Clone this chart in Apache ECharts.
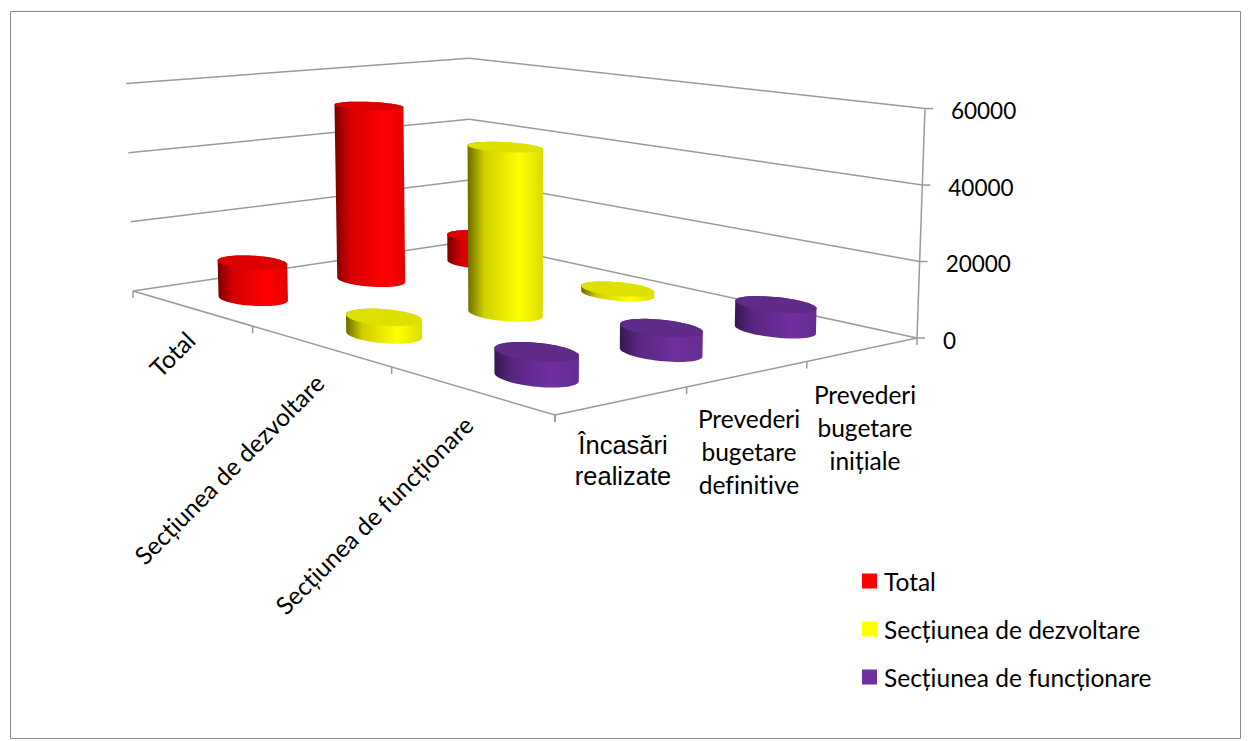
<!DOCTYPE html>
<html>
<head>
<meta charset="utf-8">
<script src="https://cdn.jsdelivr.net/npm/echarts@6/dist/echarts.min.js"></script>
<style>html,body{margin:0;padding:0;background:#fff}#c{width:1251px;height:741px}svg text{font-variant-ligatures:none}</style>
</head>
<body>
<div id="c"></div>
<script>
var seriesNames = ['Total', 'Secțiunea de dezvoltare', 'Secțiunea de funcționare'];
var categories = ['Încasări\nrealizate', 'Prevederi\nbugetare\ndefinitive', 'Prevederi\nbugetare\ninițiale'];
var totalValues = [10200, 51800, 8200];
var dezvoltareValues = [4600, 46000, 1400];
var functionareValues = [6100, 6200, 6700];
var valueTicks = [0, 20000, 40000, 60000];

var allValues = [totalValues, dezvoltareValues, functionareValues];
var FLOOR = {left: [133, 291], front: [555, 415], right: [917, 338], back: [470, 241]};
var HEIGHT_AT_LEFT = 207.5, BACK_SHRINK = 0.02, VP = [520, 11760], RADIUS = 0.067, MAXV = 60000;
var GRID_LEFT = 133, GRID_RIGHT_X = 925, GRID_TOP = 108, GRID_BOTTOM_Y = 338;
var TEXT_FONT = 'Lato', ARIAL_FONT = 'Liberation Sans', FONT_SIZE = 24.5, NUM_SIZE = 22.5;
var GRAY = '#9a9a9a';
var COLORS = [
  {base: '#ff0000', top: '#dc0000', stops: ['#7a0000', '#d40000', '#ff0000', '#e60000']},
  {base: '#ffff00', top: '#dfdf00', stops: ['#6b6b00', '#cfcf00', '#ffff00', '#dcdc00']},
  {base: '#7030a0', top: '#5f2a88', stops: ['#37184f', '#582680', '#7030a0', '#662c92']}
];

// perspective from the unit floor square to the picture
var m = (function () {
  var a = FLOOR.left, b = FLOOR.front, c = FLOOR.right, d = FLOOR.back;
  var dx1 = b[0] - c[0], dx2 = d[0] - c[0], sx = a[0] - b[0] + c[0] - d[0];
  var dy1 = b[1] - c[1], dy2 = d[1] - c[1], sy = a[1] - b[1] + c[1] - d[1];
  var den = dx1 * dy2 - dy1 * dx2;
  var g = (sx * dy2 - sy * dx2) / den, h = (dx1 * sy - dy1 * sx) / den;
  return {g: g, h: h,
    ax: b[0] - a[0] + g * b[0], bx: d[0] - a[0] + h * d[0], cx: a[0],
    ay: b[1] - a[1] + g * b[1], by: d[1] - a[1] + h * d[1], cy: a[1]};
})();
function project(u, v, frac) {
  var w = 1 + m.g * u + m.h * v;
  var x = (m.ax * u + m.bx * v + m.cx) / w;
  var y = (m.ay * u + m.by * v + m.cy) / w;
  var hgt = frac * HEIGHT_AT_LEFT / w * (1 - BACK_SHRINK * v * (1 - u));
  return [x + (x - VP[0]) / (VP[1] - y) * hgt, y - hgt];
}
function hull(pts) {
  pts = pts.slice().sort(function (p, q) { return p[0] - q[0] || p[1] - q[1]; });
  function cross(o, a, b) { return (a[0] - o[0]) * (b[1] - o[1]) - (a[1] - o[1]) * (b[0] - o[0]); }
  var lo = [], up = [], i;
  for (i = 0; i < pts.length; i++) { while (lo.length > 1 && cross(lo[lo.length - 2], lo[lo.length - 1], pts[i]) <= 0) lo.pop(); lo.push(pts[i]); }
  for (i = pts.length - 1; i >= 0; i--) { while (up.length > 1 && cross(up[up.length - 2], up[up.length - 1], pts[i]) <= 0) up.pop(); up.push(pts[i]); }
  lo.pop(); up.pop();
  return lo.concat(up);
}
function circle(u, v, frac) {
  var out = [];
  for (var k = 0; k < 64; k++) {
    var t = k / 64 * Math.PI * 2;
    out.push(project(u + RADIUS * Math.cos(t), v + RADIUS * Math.sin(t), frac));
  }
  return out;
}
function renderCylinder(s) {
  return function (params, api) {
    var cs = params.coordSys;
    var v = (api.coord([api.value(0), 0])[0] - cs.x) / cs.width;
    var frac = (cs.y + cs.height - api.coord([api.value(0), api.value(1)])[1]) / cs.height;
    var u = (s + 0.5) / seriesNames.length;
    var top = circle(u, v, frac), bottom = circle(u, v, 0), c = COLORS[s];
    return {type: 'group', children: [
      {type: 'polygon', shape: {points: hull(top.concat(bottom))}, style: {fill: {
        type: 'linear', x: 0, y: 0, x2: 1, y2: 0, colorStops: [
          {offset: 0, color: c.stops[0]}, {offset: 0.22, color: c.stops[1]},
          {offset: 0.68, color: c.stops[2]}, {offset: 1, color: c.stops[3]}]}}},
      {type: 'polygon', shape: {points: top}, style: {fill: c.top}}
    ]};
  };
}
function seg(p, q, w) {
  return {type: 'line', shape: {x1: p[0], y1: p[1], x2: q[0], y2: q[1]}, style: {stroke: GRAY, lineWidth: w || 1.5}};
}
function txt(s, x, y, rot, font, size, lh) {
  return {type: 'text', x: x, y: y, rotation: rot, style: {text: s, align: 'center', verticalAlign: 'middle',
    fontFamily: font, fontSize: size, lineHeight: lh || size, fill: '#000'}};
}
function renderFrame() {
  var ch = [];
  valueTicks.forEach(function (t) {
    var f = t / MAXV;
    ch.push(seg(project(0, 0, f), project(0, 1, f)));
    ch.push(seg(project(0, 1, f), project(1, 1, f)));
    var r = project(1, 1, f);
    ch.push(seg(r, [r[0] + 8, r[1]]));
    ch.push({type: 'text', x: r[0] + 26, y: r[1] + 2, style: {text: String(t), align: 'left', verticalAlign: 'middle',
      fontFamily: TEXT_FONT, fontSize: NUM_SIZE, fill: '#000'}});
  });
  ch.push(seg(project(1, 1, 0), project(1, 1, 1)));
  ch.push(seg(project(0, 0, 0), project(1, 0, 0)));
  ch.push(seg(project(1, 0, 0), project(1, 1, 0)));
  var i, p;
  for (i = 0; i <= 3; i++) {
    p = project(i / 3, 0, 0); ch.push(seg(p, [p[0], p[1] + 7]));
    p = project(1, i / 3, 0); ch.push(seg(p, [p[0], p[1] + 7]));
  }
  var q = Math.PI / 4;
  ch.push(txt(seriesNames[0], 172, 354, q, TEXT_FONT, FONT_SIZE));
  ch.push(txt(seriesNames[1], 229, 469, q, TEXT_FONT, FONT_SIZE));
  ch.push(txt(seriesNames[2], 374, 515, q, TEXT_FONT, FONT_SIZE));
  ch.push(txt(categories[0], 623, 460.5, 0, ARIAL_FONT, 25.5, 31));
  ch.push(txt(categories[1], 749, 451, 0, TEXT_FONT, FONT_SIZE, 33));
  ch.push(txt(categories[2], 865, 427, 0, TEXT_FONT, FONT_SIZE, 33));
  return {type: 'group', children: ch};
}
var series = [{name: 'frame', type: 'custom', renderItem: renderFrame, data: [[0, 0]], silent: true, z: 1}];
seriesNames.forEach(function (name, s) {
  series.push({name: name, type: 'custom', renderItem: renderCylinder(s), silent: true, z: 2 + s,
    itemStyle: {color: COLORS[s].base},
    data: [2, 1, 0].map(function (i) { return [i, allValues[s][i]]; })});
});
var chart = echarts.init(document.getElementById('c'), null, {renderer: 'svg'});
chart.setOption({
  animation: false,
  backgroundColor: '#fff',
  graphic: [{type: 'rect', shape: {x: 10.5, y: 11.5, width: 1230, height: 727}, style: {fill: 'none', stroke: '#8c8c8c', lineWidth: 1}, silent: true, z: 0}],
  grid: {left: GRID_LEFT, top: GRID_TOP, width: GRID_RIGHT_X - GRID_LEFT, height: GRID_BOTTOM_Y - GRID_TOP},
  xAxis: {type: 'category', data: categories, show: false},
  yAxis: {type: 'value', min: 0, max: MAXV, interval: 20000, show: false},
  legend: {data: seriesNames, orient: 'vertical', left: 857, top: 562, itemWidth: 15, itemHeight: 15, itemGap: 20, icon: 'rect',
    selectedMode: false, textStyle: {fontFamily: TEXT_FONT, fontSize: FONT_SIZE, color: '#000', padding: [0, 0, 0, 2], lineHeight: 28}},
  series: series
});
</script>
</body>
</html>
